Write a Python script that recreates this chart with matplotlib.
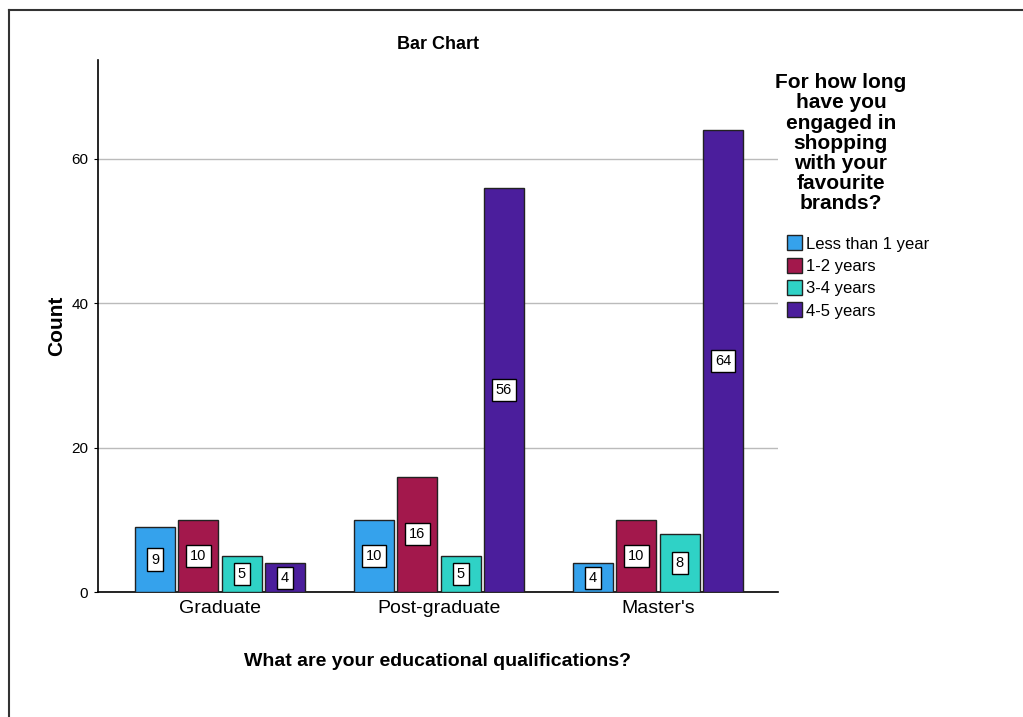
import matplotlib.pyplot as plt
import numpy as np
from matplotlib.lines import Line2D
from matplotlib.patches import Patch

plt.rcParams['font.family'] = ['Liberation Sans', 'DejaVu Sans']

qualifications = ['Graduate', 'Post-graduate', "Master's"]
durations = ['Less than 1 year', '1-2 years', '3-4 years', '4-5 years']
counts = {
    'Less than 1 year': [9, 10, 4],
    '1-2 years': [10, 16, 10],
    '3-4 years': [5, 5, 8],
    '4-5 years': [4, 56, 64],
}
colors = ['#35a2ec', '#a3184c', '#2fd2c6', '#4b1e9c']

fig = plt.figure(figsize=(10.23, 7.17), dpi=100)
ax = fig.add_axes([0.0958, 0.1743, 0.6647, 0.742])

x = np.arange(len(qualifications))
step = 0.198
width = 0.183
for i, (name, col) in enumerate(zip(durations, colors)):
    pos = x + (i - 1.5) * step
    vals = counts[name]
    ax.bar(pos, vals, width, color=col, edgecolor='#222222', linewidth=1, zorder=3)
    for px, v in zip(pos, vals):
        ax.text(px, v / 2, str(v), ha='center', va='center', fontsize=10.5,
                zorder=4,
                bbox=dict(boxstyle='square,pad=0.28', facecolor='white',
                          edgecolor='black', linewidth=1))

ax.set_xlim(-0.557, 2.548)
ax.set_ylim(0, 73.7)
ax.set_yticks([0, 20, 40, 60])
ax.yaxis.grid(True, color='#bbbbbb', linewidth=1, zorder=0)
ax.set_axisbelow(True)
ax.set_xticks(x)
ax.set_xticklabels(qualifications, fontsize=14)
ax.tick_params(axis='x', length=0, pad=6)
ax.tick_params(axis='y', labelsize=11, length=3, pad=4)
for s in ['top', 'right']:
    ax.spines[s].set_visible(False)
ax.spines['left'].set_linewidth(1.2)
ax.spines['bottom'].set_linewidth(1.2)

ax.set_ylabel('Count', fontsize=15, fontweight='bold', labelpad=4)
ax.set_xlabel('What are your educational qualifications?', fontsize=14,
              fontweight='bold', labelpad=26)
ax.set_title('Bar Chart', fontsize=13, fontweight='bold', pad=8)

# legend: heading as separate text, then swatches
fig.text(0.822, 0.898, 'For how long\nhave you\nengaged in\nshopping\nwith your\nfavourite\nbrands?',
         ha='center', va='top', fontsize=15, fontweight='bold', linespacing=1.08)
handles = [Patch(facecolor=c, edgecolor='#222222', linewidth=1) for c in colors]
fig.legend(handles, durations, loc='upper left', bbox_to_anchor=(0.758, 0.688),
           frameon=False, fontsize=12, handlelength=0.9, handleheight=1.0,
           handletextpad=0.25, labelspacing=0.37, borderpad=0.2)

# outer frame lines on top and left
fig.add_artist(Line2D([0.009, 1.0], [0.986, 0.986], color='#333333', linewidth=1.5))
fig.add_artist(Line2D([0.009, 0.009], [0.0, 0.986], color='#333333', linewidth=1.5))

fig.savefig('out.png', dpi=100)
